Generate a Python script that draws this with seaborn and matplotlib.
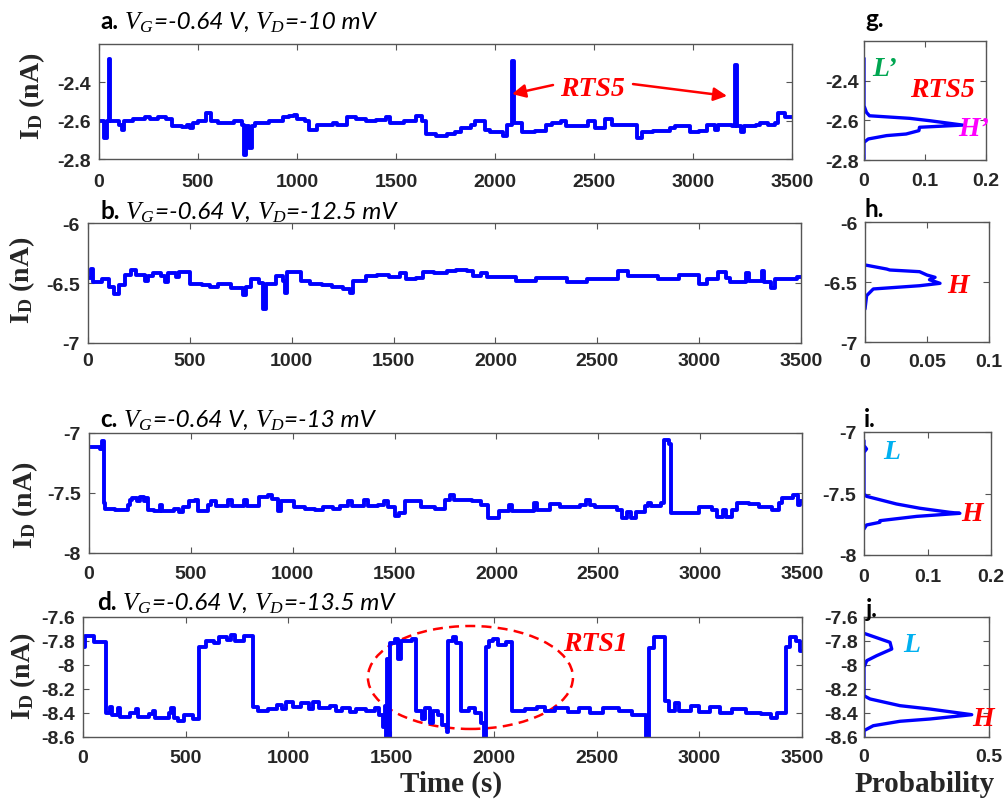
import matplotlib
matplotlib.use("Agg")
import matplotlib.pyplot as plt
from matplotlib.patches import Ellipse
import seaborn as sns

# ---------------- data ----------------
time_ticks = [0, 500, 1000, 1500, 2000, 2500, 3000, 3500]

# a. VD = -10 mV  (step breakpoints: time in s, current in nA)
a_time = [0, 25, 38, 48, 54, 100, 115, 125, 170, 230, 260, 300, 340, 370, 420, 445, 460, 475,
          500, 540, 565, 600, 680, 720, 730, 742, 760, 775, 790, 860, 930, 960, 985, 1000,
          1040, 1060, 1100, 1180, 1200, 1250, 1300, 1350, 1400, 1450, 1470, 1540, 1600, 1630,
          1650, 1700, 1760, 1800, 1830, 1880, 1900, 1950, 1975, 2040, 2060, 2085, 2095, 2135,
          2200, 2260, 2290, 2335, 2360, 2470, 2505, 2555, 2590, 2650, 2715, 2740, 2800, 2885,
          2910, 2985, 3030, 3070, 3110, 3125, 3195, 3210, 3220, 3240, 3260, 3320, 3340, 3380,
          3415, 3430, 3465, 3500]
a_current = [-2.60, -2.69, -2.60, -2.28, -2.60, -2.62, -2.65, -2.60, -2.59, -2.58, -2.59, -2.58,
             -2.59, -2.63, -2.635, -2.62, -2.64, -2.61, -2.60, -2.56, -2.60, -2.61, -2.60, -2.62,
             -2.78, -2.63, -2.74, -2.63, -2.61, -2.60, -2.58, -2.575, -2.57, -2.59, -2.60, -2.65,
             -2.62, -2.61, -2.62, -2.58, -2.59, -2.60, -2.595, -2.58, -2.61, -2.60, -2.575, -2.60,
             -2.67, -2.68, -2.67, -2.66, -2.64, -2.62, -2.60, -2.65, -2.66, -2.68, -2.62, -2.29,
             -2.61, -2.66, -2.655, -2.62, -2.61, -2.60, -2.63, -2.60, -2.64, -2.59, -2.62, -2.625,
             -2.69, -2.66, -2.655, -2.64, -2.63, -2.66, -2.655, -2.62, -2.65, -2.62, -2.63, -2.31,
             -2.63, -2.66, -2.63, -2.62, -2.61, -2.62, -2.61, -2.56, -2.58, -2.58]

# b. VD = -12.5 mV
b_time = [0, 15, 25, 70, 105, 130, 150, 180, 213, 237, 280, 295, 320, 360, 380, 395, 430, 445,
          500, 560, 600, 640, 700, 760, 775, 800, 840, 860, 872, 925, 955, 968, 978, 1047, 1088,
          1150, 1200, 1250, 1285, 1300, 1367, 1420, 1480, 1530, 1560, 1612, 1645, 1700, 1760,
          1808, 1860, 1890, 1930, 1960, 2100, 2200, 2350, 2450, 2600, 2650, 2800, 2900, 3000,
          3040, 3095, 3130, 3150, 3230, 3245, 3310, 3320, 3355, 3370, 3480, 3500]
b_current = [-6.46, -6.38, -6.49, -6.47, -6.53, -6.59, -6.52, -6.43, -6.39, -6.43, -6.48, -6.44,
             -6.42, -6.44, -6.49, -6.42, -6.45, -6.41, -6.51, -6.52, -6.53, -6.51, -6.54, -6.60,
             -6.53, -6.47, -6.50, -6.72, -6.51, -6.44, -6.48, -6.58, -6.41, -6.48, -6.51, -6.52,
             -6.53, -6.55, -6.58, -6.48, -6.44, -6.43, -6.45, -6.42, -6.47, -6.46, -6.41, -6.42,
             -6.40, -6.39, -6.40, -6.44, -6.42, -6.45, -6.48, -6.46, -6.49, -6.47, -6.40, -6.44,
             -6.47, -6.43, -6.51, -6.47, -6.41, -6.46, -6.49, -6.42, -6.48, -6.40, -6.49, -6.54,
             -6.47, -6.45, -6.45]

# c. VD = -13 mV
c_time = [0, 55, 62, 72, 80, 130, 190, 200, 212, 235, 250, 270, 280, 290, 320, 350, 360, 418,
          440, 460, 490, 520, 535, 582, 600, 625, 680, 700, 760, 775, 836, 880, 900, 926, 943,
          1008, 1060, 1107, 1150, 1200, 1230, 1270, 1290, 1350, 1370, 1420, 1450, 1470, 1500,
          1520, 1550, 1632, 1700, 1746, 1770, 1790, 1880, 1926, 1960, 2013, 2060, 2075, 2183,
          2200, 2265, 2313, 2410, 2440, 2460, 2484, 2590, 2614, 2640, 2660, 2687, 2727, 2745,
          2760, 2808, 2825, 2845, 2857, 2995, 3060, 3084, 3110, 3125, 3157, 3180, 3240, 3287,
          3352, 3385, 3401, 3458, 3482, 3490, 3500]
c_current = [-7.12, -7.13, -7.07, -7.58, -7.63, -7.645, -7.60, -7.56, -7.54, -7.57, -7.53, -7.57,
             -7.54, -7.64, -7.65, -7.60, -7.65, -7.63, -7.66, -7.62, -7.57, -7.56, -7.65, -7.60,
             -7.57, -7.61, -7.56, -7.61, -7.56, -7.61, -7.53, -7.52, -7.55, -7.65, -7.57, -7.62,
             -7.63, -7.64, -7.62, -7.63, -7.61, -7.57, -7.61, -7.56, -7.61, -7.60, -7.57, -7.62,
             -7.69, -7.67, -7.57, -7.62, -7.63, -7.56, -7.52, -7.56, -7.57, -7.60, -7.71, -7.65,
             -7.60, -7.65, -7.58, -7.64, -7.59, -7.62, -7.60, -7.56, -7.60, -7.62, -7.64, -7.71,
             -7.66, -7.71, -7.66, -7.61, -7.58, -7.61, -7.58, -7.06, -7.09, -7.67, -7.62, -7.64,
             -7.70, -7.64, -7.70, -7.64, -7.58, -7.59, -7.62, -7.64, -7.58, -7.54, -7.52, -7.60,
             -7.57, -7.57]

# d. VD = -13.5 mV
d_time = [0, 12, 53, 110, 130, 140, 170, 180, 230, 260, 270, 320, 340, 350, 420, 430, 445, 462,
          494, 535, 567, 600, 640, 660, 700, 720, 740, 783, 828, 850, 900, 944, 970, 990, 1020,
          1060, 1100, 1120, 1150, 1200, 1230, 1260, 1300, 1330, 1380, 1420, 1440, 1460, 1470,
          1475, 1482, 1487, 1495, 1520, 1535, 1546, 1600, 1621, 1650, 1665, 1690, 1705, 1730,
          1746, 1770, 1778, 1800, 1815, 1840, 1880, 1910, 1939, 1950, 1963, 1975, 1997, 2021,
          2060, 2086, 2150, 2210, 2250, 2300, 2360, 2413, 2470, 2530, 2608, 2674, 2739, 2755,
          2780, 2834, 2853, 2880, 2902, 2960, 3000, 3050, 3100, 3160, 3228, 3300, 3350, 3380,
          3421, 3440, 3473, 3490, 3500]
d_current = [-7.85, -7.76, -7.81, -8.40, -8.35, -8.42, -8.36, -8.43, -8.40, -8.37, -8.43, -8.41,
             -8.38, -8.44, -8.40, -8.36, -8.44, -8.47, -8.42, -8.45, -7.85, -7.80, -7.82, -7.77,
             -7.79, -7.75, -7.80, -7.76, -8.35, -8.38, -8.37, -8.33, -8.37, -8.31, -8.35, -8.32,
             -8.37, -8.31, -8.36, -8.34, -8.38, -8.36, -8.39, -8.37, -8.38, -8.36, -8.42, -8.52,
             -8.34, -8.65, -7.95, -8.65, -7.82, -7.78, -7.95, -7.80, -7.78, -8.38, -8.45, -8.36,
             -8.48, -8.38, -8.42, -8.50, -8.56, -7.80, -7.77, -7.82, -8.38, -8.36, -8.40, -8.48,
             -8.68, -7.85, -7.80, -7.78, -7.83, -7.81, -8.38, -8.37, -8.35, -8.38, -8.36, -8.39,
             -8.36, -8.40, -8.36, -8.38, -8.42, -8.70, -7.86, -7.77, -8.30, -8.38, -8.32, -8.38,
             -8.34, -8.39, -8.35, -8.40, -8.37, -8.40, -8.41, -8.44, -8.40, -7.85, -7.77, -7.80,
             -7.88, -7.88]

# probability distributions of the current levels
g_current = [-2.287, -2.526, -2.560, -2.577, -2.590, -2.602, -2.624, -2.635, -2.652, -2.669,
             -2.677, -2.694, -2.711, -2.795]
g_prob = [0, 0, 0.004, 0.009, 0.075, 0.108, 0.162, 0.091, 0.090, 0.069, 0.037, 0.007, 0, 0]

h_current = [-6.358, -6.392, -6.400, -6.414, -6.442, -6.461, -6.481, -6.511, -6.531, -6.558,
             -6.614, -6.725]
h_prob = [0, 0.0175, 0.020, 0.044, 0.050, 0.0565, 0.052, 0.0605, 0.044, 0.0067, 0.0013, 0]

i_current = [-7.07, -7.11, -7.138, -7.165, -7.504, -7.523, -7.585, -7.620, -7.653, -7.661,
             -7.686, -7.721, -7.734, -7.756, -7.789]
i_prob = [0, 0, 0.004, 0, 0, 0.004, 0.051, 0.088, 0.135, 0.151, 0.083, 0.025, 0.025, 0.004, 0]

j_current = [-7.736, -7.811, -7.867, -7.922, -7.964, -8.019, -8.256, -8.283, -8.339, -8.367,
             -8.414, -8.450, -8.469, -8.506, -8.547, -8.597]
j_prob = [0, 0.104, 0.111, 0.051, 0.011, 0, 0, 0.024, 0.144, 0.264, 0.431, 0.264, 0.144,
          0.037, 0, 0]

drain_bias = ["-10", "-12.5", "-13", "-13.5"]

# ---------------- style ----------------
sns.set_theme(style="ticks")
plt.rcParams["font.family"] = ["Liberation Sans", "DejaVu Sans"]
plt.rcParams["mathtext.fontset"] = "custom"
plt.rcParams["mathtext.it"] = "Liberation Serif:italic"
plt.rcParams["mathtext.bf"] = "Liberation Serif:bold"
plt.rcParams["mathtext.rm"] = "Liberation Serif"

W, H = 1008, 803
fig = plt.figure(figsize=(W / 100, H / 100), dpi=100)
renderer = fig.canvas.get_renderer()

BLUE = "#0000ff"
TICK_COLOR = "#262626"
SPINE_COLOR = "#555555"
SERIF_BI = dict(family="Liberation Serif", weight="bold", style="italic", size=20)


def box(left, top, right, bottom):
    return [left / W, 1 - bottom / H, (right - left) / W, (bottom - top) / H]


def style_axes(ax, xticks, yticks, xpad, ypad):
    ax.set_xticks(xticks)
    ax.set_xticklabels([f"{v:g}" for v in xticks], fontweight="bold", fontsize=14,
                       color=TICK_COLOR)
    ax.set_yticks(yticks)
    ax.set_yticklabels([f"{v:g}" for v in yticks], fontweight="bold", fontsize=14,
                       color=TICK_COLOR)
    ax.tick_params(direction="in", top=True, right=True, length=4, width=0.8,
                   color=SPINE_COLOR)
    ax.tick_params(axis="x", pad=xpad)
    ax.tick_params(axis="y", pad=ypad)
    for sp in ax.spines.values():
        sp.set_visible(True)
        sp.set_color(SPINE_COLOR)
        sp.set_linewidth(1.0)
    ax.set_xlabel("")
    ax.set_ylabel("")


def trace_panel(rect, t, cur, ylim, yticks, xpad):
    ax = fig.add_axes(box(*rect))
    sns.lineplot(x=t, y=cur, ax=ax, color=BLUE, lw=2.8, drawstyle="steps-post",
                 estimator=None, sort=False)
    ax.set_xlim(0, 3500)
    ax.set_ylim(*ylim)
    style_axes(ax, time_ticks, yticks, xpad, 6.0)
    return ax


def hist_panel(rect, prob, cur, xlim, xticks, ylim, yticks, xpad, ypad):
    ax = fig.add_axes(box(*rect))
    sns.lineplot(x=prob, y=cur, ax=ax, color=BLUE, lw=2.4, orient="y",
                 estimator=None, sort=False)
    ax.set_xlim(*xlim)
    ax.set_ylim(*ylim)
    style_axes(ax, xticks, yticks, xpad, ypad)
    return ax


def rich_text(x_px, y_px, pieces):
    x = x_px
    for s, props, gap in pieces:
        t = fig.text(x / W, 1 - y_px / H, s, ha="left", va="baseline", **props)
        x += t.get_window_extent(renderer).width + gap


BOLD = dict(family="Lato", weight="bold", size=17.5, color="black")
ITAL = dict(family="Lato", style="italic", size=17.5, color="black")
MATH = dict(size=18, color="black")


def panel_title(x_px, y_px, letter, vd):
    rich_text(x_px, y_px, [
        (letter, BOLD, 6),
        (r"$V_G$", MATH, 0),
        ("=-0.64 V,", ITAL, 6),
        (r"$V_D$", MATH, 0),
        (f"={vd} mV", ITAL, 0),
    ])


# ---------------- time traces ----------------
ax_a = trace_panel((99, 45, 792, 160), a_time, a_current, (-2.8, -2.2), [-2.8, -2.6, -2.4], 10)
ax_b = trace_panel((88, 224, 801, 344), b_time, b_current, (-7, -6), [-7, -6.5, -6], 6.7)
ax_c = trace_panel((89, 434, 802, 554), c_time, c_current, (-8, -7), [-8, -7.5, -7], 8.9)
ax_d = trace_panel((83, 618, 802, 738), d_time, d_current, (-8.6, -7.6),
                   [-8.6, -8.4, -8.2, -8, -7.8, -7.6], 8.9)

# ---------------- distributions ----------------
ax_g = hist_panel((864, 42, 986, 161), g_prob, g_current, (0, 0.2), [0, 0.1, 0.2],
                  (-2.8, -2.2), [-2.8, -2.6, -2.4], 8.9, 3.5)
ax_h = hist_panel((865, 223, 989, 343), h_prob, h_current, (0, 0.1), [0, 0.05, 0.1],
                  (-7, -6), [-7, -6.5, -6], 8.1, 5.5)
ax_i = hist_panel((864, 433, 991, 556), i_prob, i_current, (0, 0.2), [0, 0.1, 0.2],
                  (-8, -7), [-8, -7.5, -7], 9.6, 5.5)
ax_j = hist_panel((864, 618, 989, 738), j_prob, j_current, (0, 0.5), [0, 0.5],
                  (-8.6, -7.6), [-8.6, -8.4, -8.2, -8, -7.8, -7.6], 8.1, 4.5)

# ---------------- titles and axis labels ----------------
panel_title(100, 29, "a.", drain_bias[0])
panel_title(100, 219, "b.", drain_bias[1])
panel_title(100, 427, "c.", drain_bias[2])
panel_title(97, 610, "d.", drain_bias[3])

for letter, x_px, y_px in [("g.", 865, 27), ("h.", 865, 217), ("i.", 864, 427), ("j.", 866, 617)]:
    fig.text(x_px / W, 1 - y_px / H, letter, ha="left", va="baseline", **BOLD)

for x_px, y_px in [(32, 96), (22, 280), (25, 505), (23, 676)]:
    fig.text(x_px / W, 1 - y_px / H, r"$\mathbf{I_D}$ (nA)", rotation=90, ha="center",
             va="center", family="Liberation Serif", weight="bold", size=20)

fig.text(451 / W, 1 - 792 / H, "Time (s)", ha="center", va="baseline",
         family="Liberation Serif", weight="bold", size=21)
fig.text(925 / W, 1 - 792 / H, "Probability", ha="center", va="baseline",
         family="Liberation Serif", weight="bold", size=21)

# ---------------- annotations ----------------
ax_a.text(2490, -2.414, "RTS5", color="red", ha="center", va="center_baseline", **SERIF_BI)
arrow = dict(arrowstyle="-|>", color="red", lw=1.8, mutation_scale=20, shrinkA=0, shrinkB=0)
ax_a.annotate("", xy=(2086, -2.461), xytext=(2293, -2.414), arrowprops=arrow)
ax_a.annotate("", xy=(3172, -2.471), xytext=(2697, -2.409), arrowprops=arrow)

ax_d.add_patch(Ellipse((1886, -8.104), 998, 0.858, fill=False, ec="red", lw=1.8,
                       ls=(0, (4, 2.5)), clip_on=False))
ax_d.text(2492, -7.792, "RTS1", color="red", ha="center", va="center_baseline", **SERIF_BI)

GREEN, MAGENTA, CYAN = "#00a651", "#ff00ff", "#00b0f0"
ax_g.text(0.0344, -2.326, "L\u2019", color=GREEN, ha="center", va="center_baseline", **SERIF_BI)
ax_g.text(0.128, -2.427, "RTS5", color="red", ha="center", va="center_baseline", **SERIF_BI)
ax_g.text(0.180, -2.624, "H\u2019", color=MAGENTA, ha="center", va="center_baseline", **SERIF_BI)
ax_h.text(0.075, -6.50, "H", color="red", ha="center", va="center_baseline", **SERIF_BI)
ax_i.text(0.044, -7.138, "L", color=CYAN, ha="center", va="center_baseline", **SERIF_BI)
ax_i.text(0.170, -7.642, "H", color="red", ha="center", va="center_baseline", **SERIF_BI)
ax_j.text(0.192, -7.808, "L", color=CYAN, ha="center", va="center_baseline", **SERIF_BI)
ax_j.text(0.476, -8.417, "H", color="red", ha="center", va="center_baseline", **SERIF_BI)

fig.savefig("out.png", dpi=100)
